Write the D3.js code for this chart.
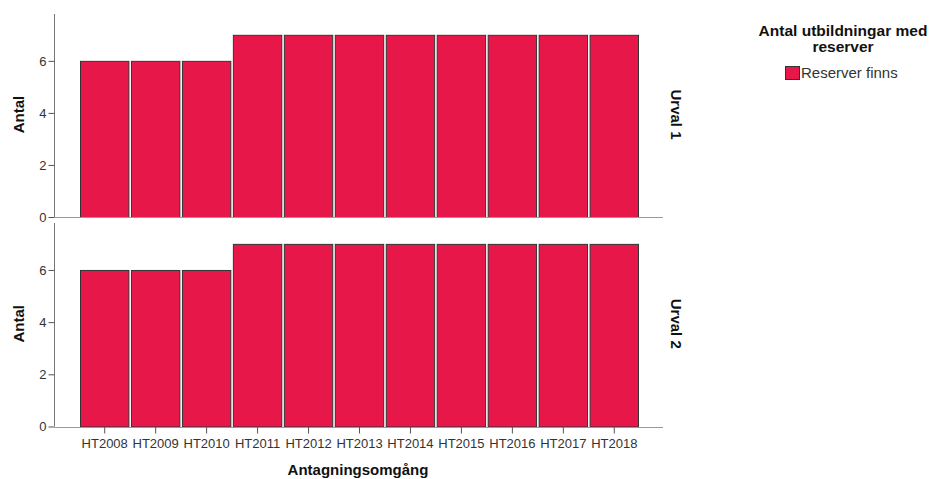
<!DOCTYPE html>
<html><head><meta charset="utf-8">
<script src="https://cdn.jsdelivr.net/npm/d3@7"></script>
<style>body{margin:0;background:#fff}svg{display:block}text{font-family:"Liberation Sans",Arial,sans-serif}</style>
</head><body>
<script>
const categories = ["HT2008","HT2009","HT2010","HT2011","HT2012","HT2013","HT2014","HT2015","HT2016","HT2017","HT2018"];
const panels = ["Urval 1","Urval 2"];
const urval1 = [6,6,6,7,7,7,7,7,7,7,7];
const urval2 = [6,6,6,7,7,7,7,7,7,7,7];
const yTicks = [0,2,4,6];
const seriesName = "Reserver finns";
const legendTitle = ["Antal utbildningar med","reserver"];
const xTitle = "Antagningsomgång";
const yTitle = "Antal";
const color = "#E8174A";

const W = 937, H = 479;
const svg = d3.select("body").append("svg").attr("width", W).attr("height", H);
const axisX0 = 54.5, axisX1 = 663;
const x = d3.scaleBand().domain(categories).range([80, 638]).paddingInner(0.05).paddingOuter(0);
const panelDefs = [{name: panels[0], vals: urval1, top: 14, bottom: 217},
                   {name: panels[1], vals: urval2, top: 223, bottom: 426.5}];

panelDefs.forEach((p, i) => {
  const y = d3.scaleLinear().domain([0, 7.8]).range([p.bottom, p.top]);
  const g = svg.append("g");
  g.selectAll("rect").data(p.vals).join("rect")
    .attr("x", (d, j) => x(categories[j]) + 0.5)
    .attr("width", x.bandwidth())
    .attr("y", d => y(d) + 0.5)
    .attr("height", d => y(0) - y(d))
    .attr("fill", color).attr("stroke", "#333").attr("stroke-width", 1);
  g.append("line").attr("x1", axisX0).attr("x2", axisX1).attr("y1", Math.round(y(0)) + 0.5).attr("y2", Math.round(y(0)) + 0.5)
    .attr("stroke", "#999").attr("stroke-width", 1);
  const ya = g.append("g").attr("transform", `translate(${axisX0},0)`)
    .call(d3.axisLeft(y).tickValues(yTicks).tickSize(6).tickPadding(2).tickFormat(d3.format("d")));
  ya.select(".domain").attr("stroke", "#777").attr("d", `M0,${p.top}V${p.bottom}`);
  ya.selectAll(".tick line").attr("stroke", "#555");
  ya.selectAll(".tick text").attr("fill", "#333").style("font-size", "13px");
  g.append("text").attr("transform", `translate(24,${(p.top + p.bottom) / 2 - 1}) rotate(-90)`)
    .attr("text-anchor", "middle").style("font-size", "15px").style("font-weight", "bold").attr("fill", "#111").text(yTitle);
  g.append("text").attr("transform", `translate(671,${(p.top + p.bottom) / 2 - 1}) rotate(90)`)
    .attr("text-anchor", "middle").style("font-size", "15px").style("font-weight", "bold").attr("fill", "#111").text(p.name);
});

const xa = svg.append("g").attr("transform", `translate(0.5,${426.5})`)
  .call(d3.axisBottom(x).tickSize(7).tickPadding(5));
xa.select(".domain").remove();
xa.selectAll(".tick line").attr("stroke", "#555");
xa.selectAll(".tick text").attr("fill", "#333").style("font-size", "13px");

svg.append("text").attr("x", 358).attr("y", 475).attr("text-anchor", "middle")
  .style("font-size", "15px").style("font-weight", "bold").attr("fill", "#111").text(xTitle);

legendTitle.forEach((t, i) => {
  svg.append("text").attr("x", 843).attr("y", 36 + i * 16).attr("text-anchor", "middle")
    .style("font-size", "15.5px").style("font-weight", "bold").attr("fill", "#111").text(t);
});
svg.append("rect").attr("x", 785.5).attr("y", 66.5).attr("width", 14).attr("height", 13)
  .attr("fill", color).attr("stroke", "#333");
svg.append("text").attr("x", 801).attr("y", 78).style("font-size", "15px").attr("fill", "#333").text(seriesName);
</script>
</body></html>
